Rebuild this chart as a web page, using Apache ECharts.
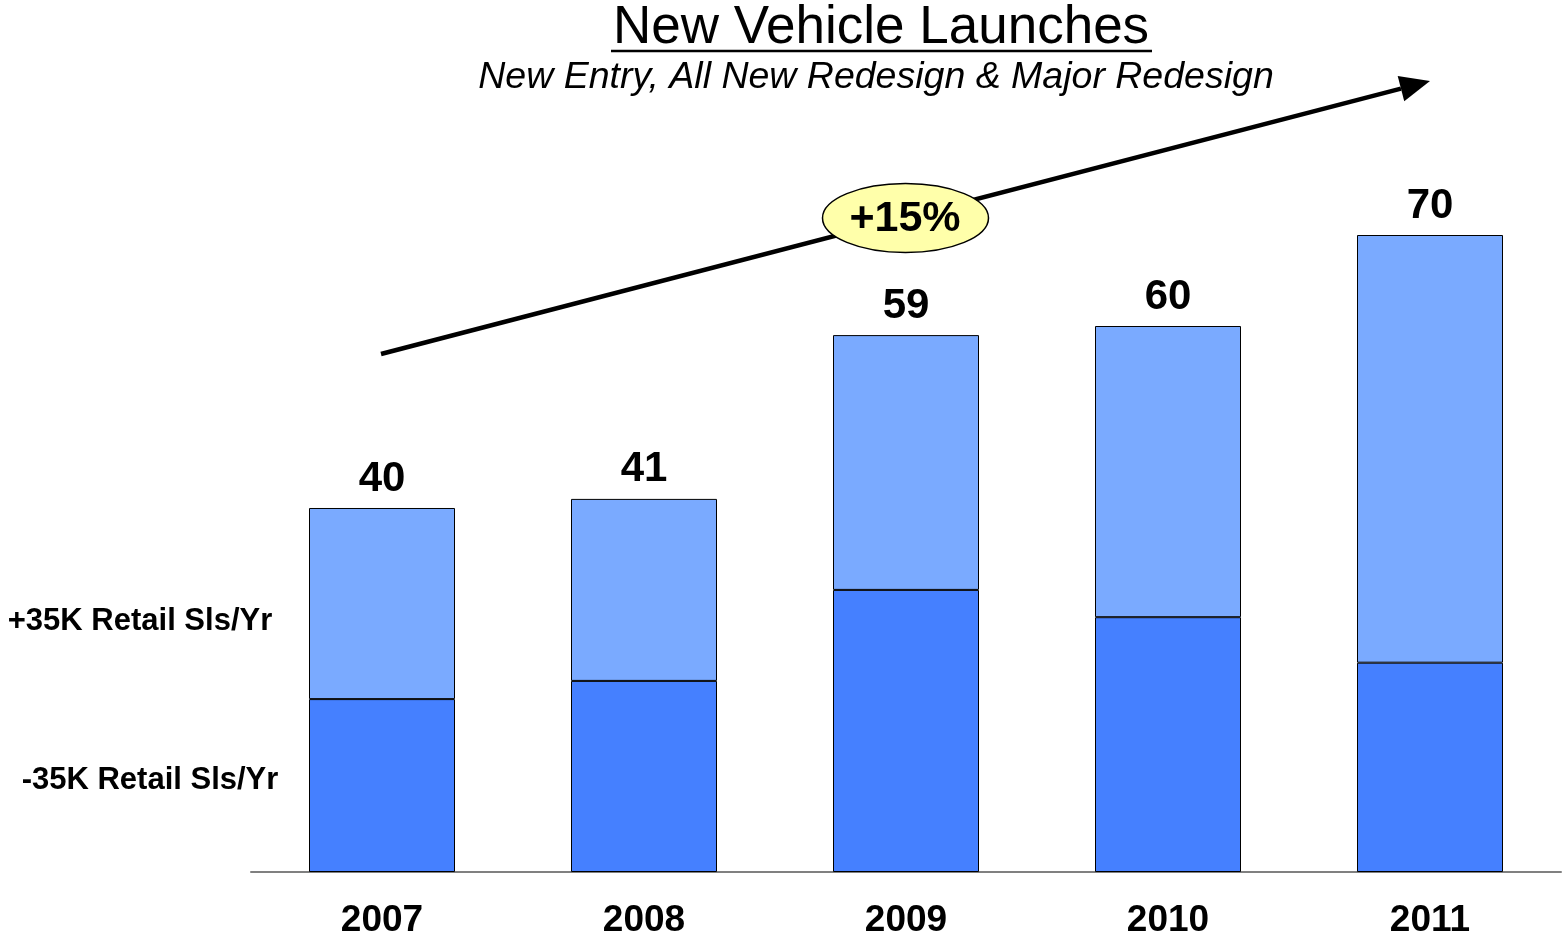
<!DOCTYPE html>
<html>
<head>
<meta charset="utf-8">
<script src="https://cdn.jsdelivr.net/npm/echarts@6/dist/echarts.min.js"></script>
<style>html,body{margin:0;padding:0;background:#fff}#c{width:1564px;height:942px}</style>
</head>
<body>
<div id="c"></div>
<script>
const years = ['2007', '2008', '2009', '2010', '2011'];
const lowerVals = [19, 21, 31, 28, 23];   // -35K Retail Sls/Yr
const upperVals = [21, 20, 28, 32, 47];   // +35K Retail Sls/Yr
const totals = [40, 41, 59, 60, 70];
const titleText = 'New Vehicle Launches';
const subtitleText = 'New Entry, All New Redesign & Major Redesign';
const growthText = '+15%';
const upperName = '+35K Retail Sls/Yr';
const lowerName = '-35K Retail Sls/Yr';

const FONT = '"Liberation Sans", Arial, sans-serif';
const chart = echarts.init(document.getElementById('c'), null, {renderer: 'canvas'});

// arrow geometry
const ax0 = 381, ay0 = 354, ax1 = 1430, ay1 = 81;
const ang = Math.atan2(ay1 - ay0, ax1 - ax0);
const headLen = 30, headHalf = 13;
const bx = ax1 - headLen * Math.cos(ang), by = ay1 - headLen * Math.sin(ang);
const px = -Math.sin(ang), py = Math.cos(ang);

chart.setOption({
  animation: false,
  backgroundColor: '#ffffff',
  grid: {left: 251, right: 3, top: 144, bottom: 70},
  xAxis: {
    type: 'category',
    data: years,
    axisLine: {show: true, lineStyle: {color: '#808080', width: 2}},
    axisTick: {show: false},
    axisLabel: {color: '#000', fontFamily: FONT, fontWeight: 'bold', fontSize: 37, margin: 30}
  },
  yAxis: {type: 'value', min: 0, max: 80, show: false, splitLine: {show: false}},
  series: [
    {
      name: lowerName, type: 'bar', stack: 's', data: lowerVals, barWidth: 146,
      itemStyle: {color: '#4580FF', borderColor: '#000', borderWidth: 1}
    },
    {
      name: upperName, type: 'bar', stack: 's', data: upperVals, barWidth: 146,
      itemStyle: {color: '#7AAAFF', borderColor: '#000', borderWidth: 1},
      label: {
        show: true, position: 'top', distance: 8,
        formatter: p => String(totals[p.dataIndex]),
        color: '#000', fontFamily: FONT, fontWeight: 'bold', fontSize: 42
      }
    }
  ],
  graphic: [
    {type: 'text', x: 881, y: 28, style: {text: titleText, font: '53px ' + FONT, fill: '#000', align: 'center', verticalAlign: 'middle'}},
    {type: 'line', shape: {x1: 611, y1: 51, x2: 1152, y2: 51}, style: {stroke: '#000', lineWidth: 2.5}},
    {type: 'text', x: 876, y: 78, style: {text: subtitleText, font: 'italic 37.5px ' + FONT, fill: '#000', align: 'center', verticalAlign: 'middle'}},
    {type: 'line', shape: {x1: ax0, y1: ay0, x2: bx, y2: by}, style: {stroke: '#000', lineWidth: 4.5}},
    {type: 'polygon', shape: {points: [[ax1, ay1], [bx + px * headHalf, by + py * headHalf], [bx - px * headHalf, by - py * headHalf]]}, style: {fill: '#000'}},
    {type: 'ellipse', shape: {cx: 905.5, cy: 218, rx: 83, ry: 34.5}, style: {fill: '#FFFFAA', stroke: '#000', lineWidth: 1.5}},
    {type: 'text', x: 905, y: 219, style: {text: growthText, font: 'bold 43px ' + FONT, fill: '#000', align: 'center', verticalAlign: 'middle'}},
    {type: 'text', x: 140, y: 621, style: {text: upperName, font: 'bold 31px ' + FONT, fill: '#000', align: 'center', verticalAlign: 'middle'}},
    {type: 'text', x: 150, y: 780, style: {text: lowerName, font: 'bold 31px ' + FONT, fill: '#000', align: 'center', verticalAlign: 'middle'}}
  ]
});
</script>
</body>
</html>
